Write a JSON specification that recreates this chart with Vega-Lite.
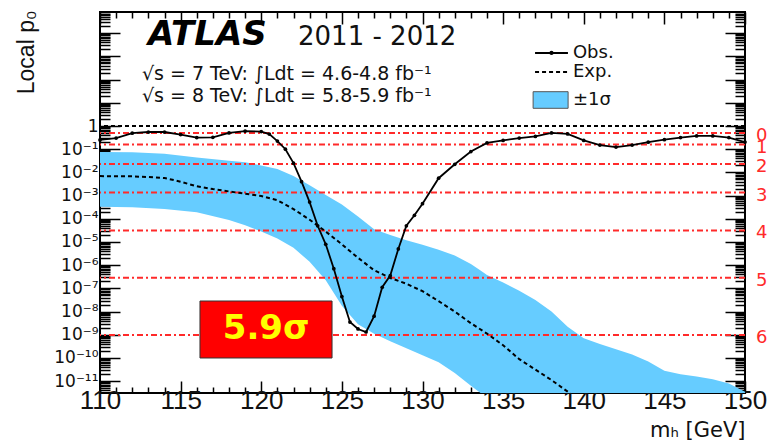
{
  "$schema": "https://vega.github.io/schema/vega-lite/v6.json",
  "width": 645,
  "height": 381,
  "autosize": "none",
  "padding": {"left": 100, "top": 12, "right": 22, "bottom": 48},
  "background": "white",
  "config": {
    "view": {"stroke": "#000", "strokeWidth": 2},
    "axis": {"grid": false, "domain": false, "tickColor": "#000", "tickWidth": 1.5}
  },
  "resolve": {"axis": {"x": "independent", "y": "independent"}},
  "datasets": {
    "band": [
      {"m": 110, "hi": 0.0759, "lo": 3.31e-4},
      {"m": 112, "hi": 0.0741, "lo": 3.16e-4},
      {"m": 114, "hi": 0.0631, "lo": 2.63e-4},
      {"m": 116, "hi": 0.0437, "lo": 1.91e-4},
      {"m": 118, "hi": 0.0316, "lo": 8.91e-5},
      {"m": 119, "hi": 0.0275, "lo": 5.25e-5},
      {"m": 120, "hi": 0.02, "lo": 2.82e-5},
      {"m": 121, "hi": 0.0141, "lo": 1.41e-5},
      {"m": 122, "hi": 0.00708, "lo": 5.62e-6},
      {"m": 123, "hi": 0.00282, "lo": 1.41e-6},
      {"m": 124, "hi": 0.00105, "lo": 2.24e-7},
      {"m": 125, "hi": 4.17e-4, "lo": 1.78e-8},
      {"m": 126, "hi": 1.26e-4, "lo": 2.82e-9},
      {"m": 127, "hi": 3.55e-5, "lo": 1.12e-9},
      {"m": 128, "hi": 2.0e-5, "lo": 5.25e-10},
      {"m": 129, "hi": 1.2e-5, "lo": 2.63e-10},
      {"m": 130, "hi": 7.59e-6, "lo": 1.32e-10},
      {"m": 131, "hi": 4.68e-6, "lo": 6.61e-11},
      {"m": 132, "hi": 2.63e-6, "lo": 2.24e-11},
      {"m": 133, "hi": 1.12e-6, "lo": 6.31e-12},
      {"m": 133.6, "hi": 5.9e-7, "lo": 3.1e-12},
      {"m": 134, "hi": 3.8e-7, "lo": 1e-13},
      {"m": 135, "hi": 1.78e-7, "lo": 1e-13},
      {"m": 136, "hi": 7.94e-8, "lo": 1e-13},
      {"m": 137, "hi": 3.16e-8, "lo": 1e-13},
      {"m": 138, "hi": 1.0e-8, "lo": 1e-13},
      {"m": 139, "hi": 2.24e-9, "lo": 1e-13},
      {"m": 140, "hi": 7.08e-10, "lo": 1e-13},
      {"m": 141, "hi": 3.98e-10, "lo": 1e-13},
      {"m": 142, "hi": 2.4e-10, "lo": 1e-13},
      {"m": 143, "hi": 1.41e-10, "lo": 1e-13},
      {"m": 144, "hi": 7.08e-11, "lo": 1e-13},
      {"m": 145, "hi": 2.82e-11, "lo": 1e-13},
      {"m": 146, "hi": 2.0e-11, "lo": 1e-13},
      {"m": 147, "hi": 1.58e-11, "lo": 1e-13},
      {"m": 148, "hi": 1.2e-11, "lo": 1e-13},
      {"m": 149, "hi": 7.94e-12, "lo": 1e-13},
      {"m": 150, "hi": 3.55e-12, "lo": 1e-13}
    ],
    "exp": [
      {"m": 110, "p": 6.92e-3}, {"m": 111, "p": 6.76e-3}, {"m": 112, "p": 6.76e-3},
      {"m": 113, "p": 6.31e-3}, {"m": 114, "p": 5.75e-3}, {"m": 115, "p": 3.98e-3},
      {"m": 116, "p": 2.51e-3}, {"m": 117, "p": 1.91e-3}, {"m": 118, "p": 1.51e-3},
      {"m": 119, "p": 1.2e-3}, {"m": 120, "p": 9.55e-4}, {"m": 121, "p": 6.31e-4},
      {"m": 122, "p": 2.63e-4}, {"m": 123, "p": 9.12e-5}, {"m": 124, "p": 2.82e-5},
      {"m": 125, "p": 7.94e-6}, {"m": 126, "p": 2.09e-6}, {"m": 127, "p": 6.03e-7},
      {"m": 128, "p": 2.82e-7}, {"m": 129, "p": 1.58e-7}, {"m": 130, "p": 7.59e-8},
      {"m": 131, "p": 2.82e-8}, {"m": 132, "p": 1.0e-8}, {"m": 133, "p": 3.16e-9},
      {"m": 134, "p": 1.12e-9}, {"m": 135, "p": 3.55e-10}, {"m": 136, "p": 8.91e-11},
      {"m": 137, "p": 3.16e-11}, {"m": 138, "p": 1.12e-11}, {"m": 139, "p": 3.55e-12},
      {"m": 139.3, "p": 2.51e-12}
    ],
    "obs": [
      {"m": 110, "p": 0.251}, {"m": 111, "p": 0.302}, {"m": 112, "p": 0.49},
      {"m": 113, "p": 0.55}, {"m": 114, "p": 0.55}, {"m": 115, "p": 0.427},
      {"m": 116, "p": 0.316}, {"m": 117, "p": 0.324}, {"m": 118, "p": 0.501},
      {"m": 119, "p": 0.603}, {"m": 120, "p": 0.575}, {"m": 120.5, "p": 0.447},
      {"m": 121, "p": 0.224}, {"m": 121.5, "p": 0.1}, {"m": 122, "p": 0.0251},
      {"m": 122.5, "p": 3.98e-3}, {"m": 123, "p": 5.25e-4}, {"m": 123.5, "p": 5.01e-5},
      {"m": 124, "p": 7.94e-6}, {"m": 124.5, "p": 7.08e-7}, {"m": 125, "p": 4.47e-8},
      {"m": 125.5, "p": 3.55e-9}, {"m": 126, "p": 1.78e-9}, {"m": 126.5, "p": 1.32e-9},
      {"m": 127, "p": 6.31e-9}, {"m": 127.5, "p": 1.12e-7}, {"m": 128, "p": 3.55e-7},
      {"m": 128.5, "p": 5.01e-6}, {"m": 129, "p": 5.01e-5}, {"m": 129.5, "p": 1.41e-4},
      {"m": 130, "p": 4.47e-4}, {"m": 131, "p": 5.62e-3}, {"m": 132, "p": 0.0224},
      {"m": 133, "p": 0.0794}, {"m": 134, "p": 0.186}, {"m": 135, "p": 0.24},
      {"m": 136, "p": 0.302}, {"m": 137, "p": 0.355}, {"m": 138, "p": 0.501},
      {"m": 139, "p": 0.457}, {"m": 140, "p": 0.24}, {"m": 141, "p": 0.151},
      {"m": 142, "p": 0.123}, {"m": 143, "p": 0.151}, {"m": 144, "p": 0.2},
      {"m": 145, "p": 0.257}, {"m": 146, "p": 0.316}, {"m": 147, "p": 0.372},
      {"m": 148, "p": 0.372}, {"m": 149, "p": 0.316}, {"m": 150, "p": 0.204}
    ],
    "sig": [
      {"p": 0.5, "lab": "0σ"},
      {"p": 0.1587, "lab": "1σ"},
      {"p": 0.02275, "lab": "2σ"},
      {"p": 0.00135, "lab": "3σ"},
      {"p": 3.167e-5, "lab": "4σ"},
      {"p": 2.867e-7, "lab": "5σ"},
      {"p": 9.866e-10, "lab": "6σ"}
    ]
  },
  "layer": [
    {
      "data": {"name": "band"},
      "mark": {"type": "area", "color": "#66ccff", "opacity": 1, "clip": true},
      "encoding": {
        "x": {
          "field": "m", "type": "quantitative",
          "scale": {"domain": [110, 150], "nice": false, "zero": false},
          "axis": {
            "orient": "bottom",
            "values": [110,111,112,113,114,115,116,117,118,119,120,121,122,123,124,125,126,127,128,129,130,131,132,133,134,135,136,137,138,139,140,141,142,143,144,145,146,147,148,149,150],
            "format": "d",
            "labelExpr": "datum.value % 5 == 0 ? datum.label : ''",
            "tickSize": {"condition": {"test": "datum.value % 5 == 0", "value": -12}, "value": -6},
            "labelPadding": 6,
            "labelFont": "Liberation Sans", "labelFontSize": 26, "labelColor": "#111",
            "labelOverlap": false, "labelFlush": false, "labelBound": false,
            "title": "mₕ [GeV]",
            "titleFont": "DejaVu Sans", "titleFontSize": 21, "titleFontWeight": "normal", "titleColor": "#111",
            "titleX": 645, "titleY": 37, "titleAlign": "right", "titleAnchor": "end", "titleBaseline": "middle"
          }
        },
        "y": {
          "field": "hi", "type": "quantitative",
          "scale": {"type": "log", "domain": [3.1e-12, 82000], "nice": false},
          "axis": {
            "orient": "left",
            "values": [4e-12,5e-12,6e-12,7e-12,8e-12,9e-12,
              1e-11,2e-11,3e-11,4e-11,5e-11,6e-11,7e-11,8e-11,9e-11,
              1e-10,2e-10,3e-10,4e-10,5e-10,6e-10,7e-10,8e-10,9e-10,
              1e-9,2e-9,3e-9,4e-9,5e-9,6e-9,7e-9,8e-9,9e-9,
              1e-8,2e-8,3e-8,4e-8,5e-8,6e-8,7e-8,8e-8,9e-8,
              1e-7,2e-7,3e-7,4e-7,5e-7,6e-7,7e-7,8e-7,9e-7,
              1e-6,2e-6,3e-6,4e-6,5e-6,6e-6,7e-6,8e-6,9e-6,
              1e-5,2e-5,3e-5,4e-5,5e-5,6e-5,7e-5,8e-5,9e-5,
              1e-4,2e-4,3e-4,4e-4,5e-4,6e-4,7e-4,8e-4,9e-4,
              1e-3,2e-3,3e-3,4e-3,5e-3,6e-3,7e-3,8e-3,9e-3,
              1e-2,2e-2,3e-2,4e-2,5e-2,6e-2,7e-2,8e-2,9e-2,
              0.1,0.2,0.3,0.4,0.5,0.6,0.7,0.8,0.9,
              1,2,3,4,5,6,7,8,9,
              10,20,30,40,50,60,70,80,90,
              100,200,300,400,500,600,700,800,900,
              1000,2000,3000,4000,5000,6000,7000,8000,9000,
              10000,20000,30000,40000,50000,60000,70000,80000],
            "labelExpr": "datum.value > 1.5 || abs(log(datum.value)/LN10 - round(log(datum.value)/LN10)) > 0.01 ? '' : ['1','10⁻¹','10⁻²','10⁻³','10⁻⁴','10⁻⁵','10⁻⁶','10⁻⁷','10⁻⁸','10⁻⁹','10⁻¹⁰','10⁻¹¹','10⁻¹²'][-round(log(datum.value)/LN10)]",
            "tickSize": {"condition": {"test": "abs(log(datum.value)/LN10 - round(log(datum.value)/LN10)) < 0.01", "value": -20}, "value": -10},
            "labelPadding": 22,
            "labelFont": "DejaVu Sans", "labelFontSize": 17, "labelColor": "#111",
            "labelOverlap": false, "labelBound": false, "labelFlush": false,
            "title": "Local p₀",
            "titleFont": "Liberation Sans", "titleFontSize": 23, "titleFontWeight": "normal", "titleColor": "#111",
            "titleX": -67, "titleY": -2, "titleAngle": -90, "titleAlign": "right", "titleBaseline": "alphabetic"
          }
        },
        "y2": {"field": "lo"}
      }
    },
    {
      "data": {"name": "sig"},
      "mark": {"type": "rule", "color": "#ff2a2a", "strokeWidth": 2, "strokeDash": [6, 3, 2, 3]},
      "encoding": {"y": {"field": "p", "type": "quantitative", "axis": null}}
    },
    {
      "data": {"name": "sig"},
      "mark": {"type": "text", "align": "left", "baseline": "middle", "dx": 11, "dy": 3, "color": "#ff2a2a", "font": "DejaVu Sans", "fontSize": 18},
      "encoding": {
        "x": {"datum": 150, "type": "quantitative", "axis": null},
        "y": {"field": "p", "type": "quantitative", "axis": null},
        "text": {"field": "lab"}
      }
    },
    {
      "data": {"values": [{"p": 1}]},
      "mark": {"type": "rule", "color": "#000", "strokeWidth": 2, "strokeDash": [4, 3]},
      "encoding": {"y": {"field": "p", "type": "quantitative", "axis": null}}
    },
    {
      "data": {"name": "exp"},
      "mark": {"type": "line", "color": "#000", "strokeWidth": 2, "strokeDash": [4, 3], "clip": true},
      "encoding": {
        "x": {"field": "m", "type": "quantitative", "axis": null},
        "y": {"field": "p", "type": "quantitative", "axis": null}
      }
    },
    {
      "data": {"name": "obs"},
      "mark": {"type": "line", "color": "#000", "strokeWidth": 1.8},
      "encoding": {
        "x": {"field": "m", "type": "quantitative", "axis": null},
        "y": {"field": "p", "type": "quantitative", "axis": null}
      }
    },
    {
      "data": {"name": "obs"},
      "mark": {"type": "point", "filled": true, "size": 14, "color": "#000", "opacity": 1},
      "encoding": {
        "x": {
          "field": "m", "type": "quantitative",
          "axis": {
            "orient": "top",
            "values": [110,111,112,113,114,115,116,117,118,119,120,121,122,123,124,125,126,127,128,129,130,131,132,133,134,135,136,137,138,139,140,141,142,143,144,145,146,147,148,149,150],
            "labels": false, "title": null,
            "tickSize": {"condition": {"test": "datum.value % 5 == 0", "value": -12}, "value": -6}
          }
        },
        "y": {
          "field": "p", "type": "quantitative",
          "axis": {
            "orient": "right",
            "values": [4e-12,5e-12,6e-12,7e-12,8e-12,9e-12,
              1e-11,2e-11,3e-11,4e-11,5e-11,6e-11,7e-11,8e-11,9e-11,
              1e-10,2e-10,3e-10,4e-10,5e-10,6e-10,7e-10,8e-10,9e-10,
              1e-9,2e-9,3e-9,4e-9,5e-9,6e-9,7e-9,8e-9,9e-9,
              1e-8,2e-8,3e-8,4e-8,5e-8,6e-8,7e-8,8e-8,9e-8,
              1e-7,2e-7,3e-7,4e-7,5e-7,6e-7,7e-7,8e-7,9e-7,
              1e-6,2e-6,3e-6,4e-6,5e-6,6e-6,7e-6,8e-6,9e-6,
              1e-5,2e-5,3e-5,4e-5,5e-5,6e-5,7e-5,8e-5,9e-5,
              1e-4,2e-4,3e-4,4e-4,5e-4,6e-4,7e-4,8e-4,9e-4,
              1e-3,2e-3,3e-3,4e-3,5e-3,6e-3,7e-3,8e-3,9e-3,
              1e-2,2e-2,3e-2,4e-2,5e-2,6e-2,7e-2,8e-2,9e-2,
              0.1,0.2,0.3,0.4,0.5,0.6,0.7,0.8,0.9,
              1,2,3,4,5,6,7,8,9,
              10,20,30,40,50,60,70,80,90,
              100,200,300,400,500,600,700,800,900,
              1000,2000,3000,4000,5000,6000,7000,8000,9000,
              10000,20000,30000,40000,50000,60000,70000,80000],
            "labels": false, "title": null,
            "tickSize": {"condition": {"test": "abs(log(datum.value)/LN10 - round(log(datum.value)/LN10)) < 0.01", "value": -20}, "value": -10}
          }
        }
      }
    },
    {
      "data": {"values": [{"m": 136.98, "p": 1403}, {"m": 139.02, "p": 1403}]},
      "mark": {"type": "line", "color": "#000", "strokeWidth": 1.8},
      "encoding": {
        "x": {"field": "m", "type": "quantitative", "axis": null},
        "y": {"field": "p", "type": "quantitative", "axis": null}
      }
    },
    {
      "data": {"values": [{"m": 138.0, "p": 1403}]},
      "mark": {"type": "point", "filled": true, "size": 18, "color": "#000", "opacity": 1},
      "encoding": {
        "x": {"field": "m", "type": "quantitative", "axis": null},
        "y": {"field": "p", "type": "quantitative", "axis": null}
      }
    },
    {
      "data": {"values": [{"m": 136.98, "p": 212.6}, {"m": 139.02, "p": 212.6}]},
      "mark": {"type": "line", "color": "#000", "strokeWidth": 2, "strokeDash": [4, 3]},
      "encoding": {
        "x": {"field": "m", "type": "quantitative", "axis": null},
        "y": {"field": "p", "type": "quantitative", "axis": null}
      }
    },
    {
      "data": {"values": [{"m1": 136.86, "m2": 139.03, "p1": 5.79, "p2": 30.1}]},
      "mark": {"type": "rect", "color": "#66ccff", "stroke": "#555", "strokeWidth": 1},
      "encoding": {
        "x": {"field": "m1", "type": "quantitative", "axis": null},
        "x2": {"field": "m2"},
        "y": {"field": "p1", "type": "quantitative", "axis": null},
        "y2": {"field": "p2"}
      }
    },
    {
      "data": {"values": [
        {"m": 139.33, "p": 1403, "t": "Obs."},
        {"m": 139.33, "p": 212.6, "t": "Exp."},
        {"m": 139.33, "p": 13.2, "t": "±1σ"}
      ]},
      "mark": {"type": "text", "align": "left", "baseline": "middle", "font": "DejaVu Sans", "fontSize": 18, "color": "#111"},
      "encoding": {
        "x": {"field": "m", "type": "quantitative", "axis": null},
        "y": {"field": "p", "type": "quantitative", "axis": null},
        "text": {"field": "t"}
      }
    },
    {
      "data": {"values": [{"m1": 116.2, "m2": 124.39, "p1": 1e-10, "p2": 2.86e-8}]},
      "mark": {"type": "rect", "color": "#ff0000", "stroke": "#333", "strokeWidth": 1},
      "encoding": {
        "x": {"field": "m1", "type": "quantitative", "axis": null},
        "x2": {"field": "m2"},
        "y": {"field": "p1", "type": "quantitative", "axis": null},
        "y2": {"field": "p2"}
      }
    },
    {
      "data": {"values": [{"m": 120.3, "p": 1.78e-9, "t": "5.9σ"}]},
      "mark": {"type": "text", "align": "center", "baseline": "middle", "font": "DejaVu Sans", "fontWeight": "bold", "fontSize": 34, "color": "#ffff00"},
      "encoding": {
        "x": {"field": "m", "type": "quantitative", "axis": null},
        "y": {"field": "p", "type": "quantitative", "axis": null},
        "text": {"field": "t"}
      }
    },
    {
      "data": {"values": [{"m": 112.98, "p": 3100, "t": "ATLAS"}]},
      "mark": {"type": "text", "align": "left", "baseline": "alphabetic", "font": "DejaVu Sans", "fontWeight": "bold", "fontStyle": "italic", "fontSize": 34, "color": "#000"},
      "encoding": {
        "x": {"field": "m", "type": "quantitative", "axis": null},
        "y": {"field": "p", "type": "quantitative", "axis": null},
        "text": {"field": "t"}
      }
    },
    {
      "data": {"values": [{"m": 122.28, "p": 3100, "t": "2011 - 2012"}]},
      "mark": {"type": "text", "align": "left", "baseline": "alphabetic", "font": "DejaVu Sans", "fontSize": 26, "color": "#111"},
      "encoding": {
        "x": {"field": "m", "type": "quantitative", "axis": null},
        "y": {"field": "p", "type": "quantitative", "axis": null},
        "text": {"field": "t"}
      }
    },
    {
      "data": {"values": [
        {"m": 112.6, "p": 96, "t": "√s = 7 TeV: ∫Ldt = 4.6-4.8 fb⁻¹"},
        {"m": 112.6, "p": 10.8, "t": "√s = 8 TeV: ∫Ldt = 5.8-5.9 fb⁻¹"}
      ]},
      "mark": {"type": "text", "align": "left", "baseline": "alphabetic", "font": "DejaVu Sans", "fontSize": 19, "color": "#111"},
      "encoding": {
        "x": {"field": "m", "type": "quantitative", "axis": null},
        "y": {"field": "p", "type": "quantitative", "axis": null},
        "text": {"field": "t"}
      }
    }
  ]
}
